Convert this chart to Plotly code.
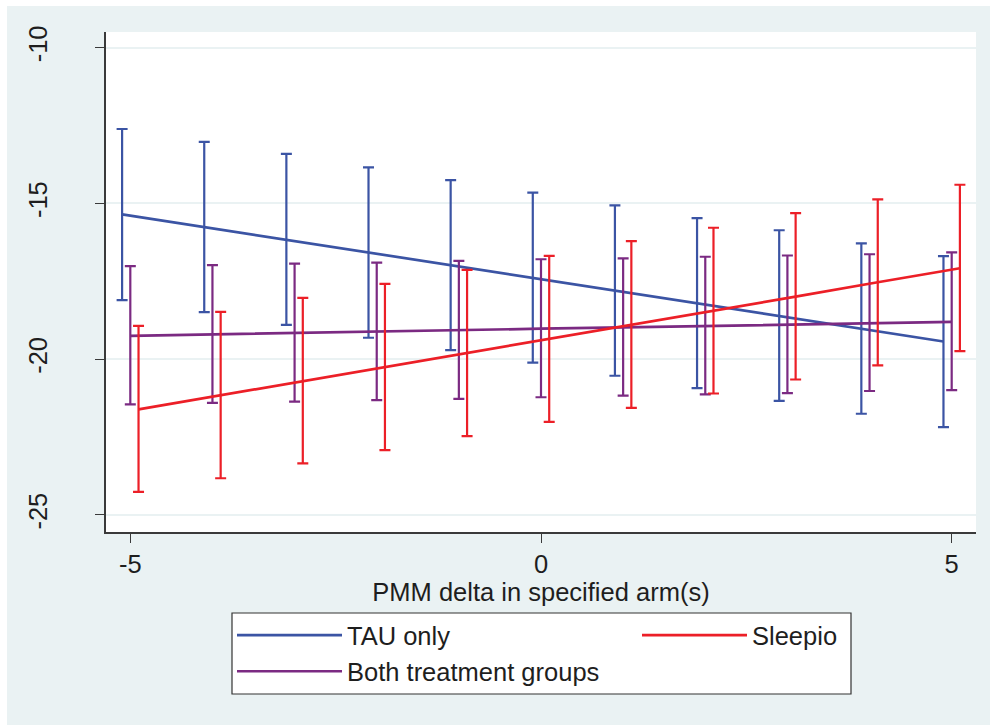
import plotly.graph_objects as go

# ---- data ----
delta = [-5, -4, -3, -2, -1, 0, 1, 2, 3, 4, 5]

tau_est = [-15.35, -15.76, -16.17, -16.57, -16.98, -17.39, -17.79, -18.20, -18.61, -19.02, -19.43]
tau_lo = [-18.10, -18.49, -18.90, -19.31, -19.71, -20.11, -20.53, -20.93, -21.34, -21.75, -22.18]
tau_hi = [-12.61, -13.02, -13.41, -13.84, -14.25, -14.65, -15.06, -15.47, -15.86, -16.28, -16.69]

both_est = [-19.25, -19.20, -19.16, -19.11, -19.07, -19.02, -18.98, -18.93, -18.89, -18.84, -18.80]
both_lo = [-21.45, -21.40, -21.36, -21.31, -21.27, -21.22, -21.17, -21.13, -21.09, -21.02, -20.99]
both_hi = [-17.01, -16.98, -16.93, -16.90, -16.84, -16.79, -16.76, -16.71, -16.67, -16.63, -16.57]

sleepio_est = [-21.61, -21.16, -20.70, -20.25, -19.80, -19.35, -18.89, -18.44, -17.99, -17.53, -17.08]
sleepio_lo = [-24.26, -23.82, -23.34, -22.92, -22.47, -22.01, -21.56, -21.10, -20.65, -20.20, -19.74]
sleepio_hi = [-18.93, -18.48, -18.03, -17.58, -17.13, -16.68, -16.21, -15.78, -15.31, -14.87, -14.40]

x_ticks = [-5, 0, 5]
y_ticks = [-25, -20, -15, -10]
x_title = "PMM delta in specified arm(s)"

# ---- style ----
FONT = "Liberation Sans, Arial, sans-serif"
FS = 25.5
BG = "#EAF2F3"
AX = "#3a3a3a"
series = [
    ("TAU only", tau_est, tau_lo, tau_hi, -0.1, "#3b54a4", "legend"),
    ("Both treatment groups", both_est, both_lo, both_hi, 0.0, "#7b2a82", "legend"),
    ("Sleepio", sleepio_est, sleepio_lo, sleepio_hi, 0.1, "#ec1f27", "legend2"),
]

fig = go.Figure()
for name, est, lo, hi, off, col, leg in series:
    fig.add_trace(go.Scatter(
        x=[d + off for d in delta], y=est, name=name, mode="lines",
        line=dict(color=col, width=2.7),
        error_y=dict(type="data", symmetric=False,
                     array=[h - e for h, e in zip(hi, est)],
                     arrayminus=[e - l for e, l in zip(est, lo)],
                     color=col, thickness=2.2, width=5.5),
        legend=leg,
    ))

L, R, T, B = 106, 14, 32, 194
W, H = 990, 726
pw, ph = W - L - R, H - T - B


def px(xp):
    return (xp - L) / pw


def py(yp):
    return (H - B - yp) / ph


shapes = [
    # white outer border strips (top / left / bottom)
    dict(type="rect", xref="paper", yref="paper", x0=px(0), x1=px(W), y0=py(6), y1=py(0),
         fillcolor="white", line=dict(width=0), layer="below"),
    dict(type="rect", xref="paper", yref="paper", x0=px(0), x1=px(7), y0=py(H), y1=py(0),
         fillcolor="white", line=dict(width=0), layer="below"),
    dict(type="rect", xref="paper", yref="paper", x0=px(0), x1=px(W), y0=py(H), y1=py(H - 1),
         fillcolor="white", line=dict(width=0), layer="below"),
    # legend frame
    dict(type="rect", xref="paper", yref="paper", x0=px(232), x1=px(851), y0=py(694), y1=py(613),
         fillcolor="white", line=dict(color="#333333", width=1.2), layer="above"),
]

fig.update_layout(
    width=W, height=H,
    margin=dict(l=L, r=R, t=T, b=B, autoexpand=False),
    paper_bgcolor=BG, plot_bgcolor="white",
    font=dict(family=FONT, size=FS, color="#1e1e1e"),
    showlegend=True,
    legend=dict(x=px(232), y=py(612), xanchor="left", yanchor="top",
                orientation="v", bgcolor="rgba(0,0,0,0)", borderwidth=0,
                itemwidth=105, font=dict(size=FS), tracegroupgap=0),
    legend2=dict(x=px(637), y=py(612), xanchor="left", yanchor="top",
                 orientation="v", bgcolor="rgba(0,0,0,0)", borderwidth=0,
                 itemwidth=105, font=dict(size=FS)),
    shapes=shapes,
    xaxis=dict(range=[-5.296, 5.296], tickvals=x_ticks, ticktext=[str(v) for v in x_ticks],
               ticks="outside", ticklen=9, tickwidth=1.4, tickcolor=AX,
               showline=True, linecolor=AX, linewidth=1.5,
               showgrid=False, zeroline=False,
               title=dict(text=x_title, standoff=0, font=dict(size=FS)),
               tickfont=dict(size=FS)),
    yaxis=dict(range=[-25.546, -9.496], tickvals=y_ticks, ticktext=[str(v) for v in y_ticks],
               tickangle=-90, ticks="outside", ticklen=9, tickwidth=1.4, tickcolor=AX,
               showline=True, linecolor=AX, linewidth=1.5,
               showgrid=True, gridcolor=BG, gridwidth=2, zeroline=False,
               tickfont=dict(size=FS), ticklabelstandoff=38),
)

fig.write_html("out.html")
